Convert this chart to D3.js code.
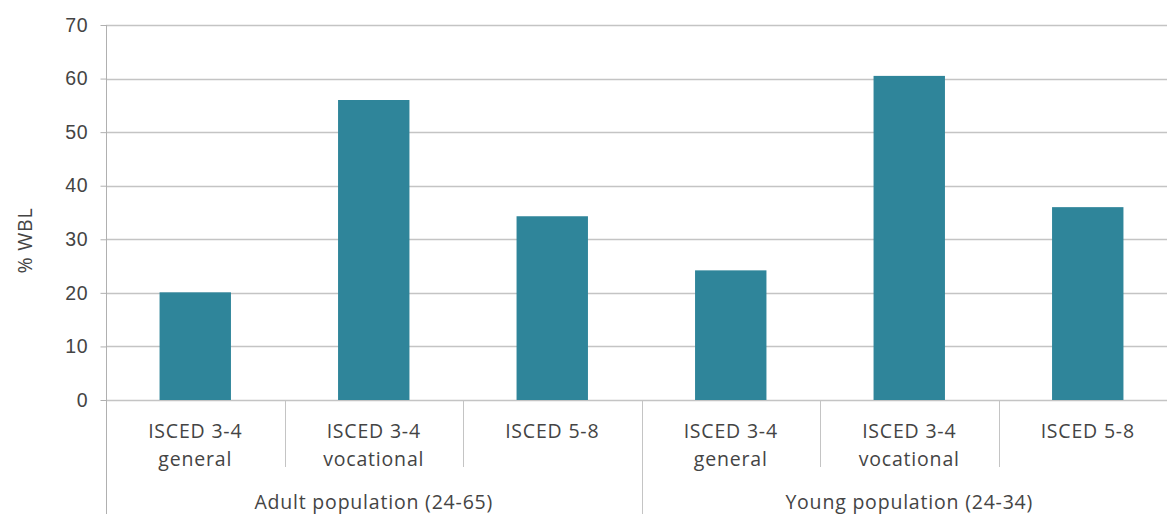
<!DOCTYPE html>
<html>
<head>
<meta charset="utf-8">
<script src="https://cdn.jsdelivr.net/npm/d3@7"></script>
<style>
  body { margin: 0; background: #fff; }
  svg { display: block; font-family: "Open Sans", sans-serif; }
</style>
</head>
<body>
<svg id="chart" width="1167" height="514"></svg>
<script>
// categories and values
const groups = ["Adult population (24-65)", "Young population (24-34)"];
const levels = [["ISCED 3-4", "general"], ["ISCED 3-4", "vocational"], ["ISCED 5-8"]];
const adultValues = [20.1, 56.0, 34.3];
const youngValues = [24.2, 60.5, 36.0];
const yTicks = [0, 10, 20, 30, 40, 50, 60, 70];

const svg = d3.select("#chart");
const plotLeft = 106, plotRight = 1177, plotTop = 25, plotBottom = 400;
const textColor = "#444";
const fontSize = "19.5px";
const spacing = "0.8px";

// flatten into one row per bar
const rows = [];
groups.forEach((g, gi) => {
    const vals = gi === 0 ? adultValues : youngValues;
    levels.forEach((lv, li) => {
        rows.push({ key: gi + "-" + li, group: g, label: lv, value: vals[li] });
    });
});

const x = d3.scaleBand()
    .domain(rows.map(d => d.key))
    .range([plotLeft, plotRight])
    .paddingInner(0)
    .paddingOuter(0);

const y = d3.scaleLinear().domain([0, 70]).range([plotBottom, plotTop]);

// gridlines
svg.append("g")
    .selectAll("line")
    .data(yTicks)
    .join("line")
    .attr("x1", plotLeft)
    .attr("x2", plotRight)
    .attr("y1", d => Math.round(y(d)) + 0.5)
    .attr("y2", d => Math.round(y(d)) + 0.5)
    .attr("stroke", "#c4c4c4")
    .attr("stroke-width", 1.5);

// y axis
const yAxis = svg.append("g")
    .attr("transform", `translate(${plotLeft + 0.5},0)`)
    .call(d3.axisLeft(y).tickValues(yTicks).tickSize(6).tickPadding(12));
yAxis.select(".domain").remove();
yAxis.selectAll(".tick line").attr("stroke", "#b0b0b0");
yAxis.selectAll(".tick text")
    .style("font-size", fontSize)
    .style("letter-spacing", spacing)
    .attr("fill", textColor);

svg.append("line")
    .attr("x1", plotLeft + 0.5).attr("x2", plotLeft + 0.5)
    .attr("y1", plotTop).attr("y2", 514)
    .attr("stroke", "#b0b0b0");

svg.append("text")
    .attr("transform", `translate(32,${(plotTop + plotBottom) / 2 + 28}) rotate(-90)`)
    .attr("text-anchor", "middle")
    .style("font-size", fontSize)
    .style("letter-spacing", spacing)
    .attr("fill", textColor)
    .text("% WBL");

// bars
const barW = x.bandwidth() * 0.4;
svg.append("g")
    .selectAll("rect")
    .data(rows)
    .join("rect")
    .attr("x", d => x(d.key) + (x.bandwidth() - barW) / 2)
    .attr("y", d => y(d.value))
    .attr("width", barW)
    .attr("height", d => y(0) - y(d.value))
    .attr("fill", "#2f859a");

// category labels
const cat = svg.append("g")
    .selectAll("text")
    .data(rows)
    .join("text")
    .attr("text-anchor", "middle")
    .style("font-size", fontSize)
    .style("letter-spacing", spacing)
    .attr("fill", textColor);
cat.each(function (d) {
    const t = d3.select(this);
    d.label.forEach((line, i) => {
        t.append("tspan")
            .attr("x", x(d.key) + x.bandwidth() / 2)
            .attr("y", 438 + i * 28)
            .text(line);
    });
});

// dividers between categories (short) and between groups (long)
const divs = rows.slice(1).map((d, i) => ({ x: x(d.key), long: (i + 1) % levels.length === 0 }));
svg.append("g")
    .selectAll("line")
    .data(divs)
    .join("line")
    .attr("x1", d => Math.round(d.x) + 0.5)
    .attr("x2", d => Math.round(d.x) + 0.5)
    .attr("y1", plotBottom)
    .attr("y2", d => d.long ? 514 : 467)
    .attr("stroke", "#c4c4c4");

// group labels
svg.append("g")
    .selectAll("text")
    .data(groups)
    .join("text")
    .attr("x", (g, gi) => {
        const first = x(gi + "-0");
        const last = x(gi + "-" + (levels.length - 1)) + x.bandwidth();
        return (first + last) / 2;
    })
    .attr("y", 509)
    .attr("text-anchor", "middle")
    .style("font-size", fontSize)
    .style("letter-spacing", spacing)
    .attr("fill", textColor)
    .text(g => g);
</script>
</body>
</html>
